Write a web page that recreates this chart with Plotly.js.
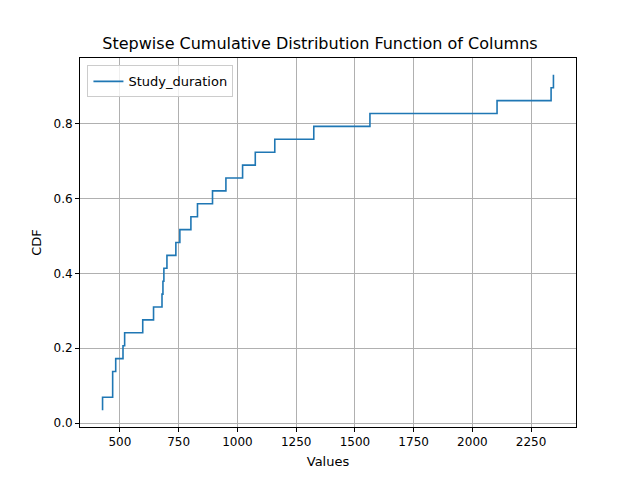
<!DOCTYPE html>
<html><head><script src="https://cdn.plot.ly/plotly-3.0.1.min.js"></script>
<style>body{margin:0}</style></head><body><div id="c" style="width:640px;height:480px"></div>
<script>
const values = [426,469,469,482,513,520,597,643,679,683,687,700,738,755,802,830,894,951,1022,1076,1159,1325,1564,2105,2335,2345,2345];
const total = 29;
const cdf = values.map((v,i)=>(i+1)/total);
const xTicks = [500,750,1000,1250,1500,1750,2000,2250];
const yTicks = [0,0.2,0.4,0.6,0.8];
const ax = {showline:true,mirror:true,linecolor:'black',linewidth:1,ticks:'outside',ticklen:4,tickcolor:'black',
  showgrid:true,gridcolor:'#b0b0b0',gridwidth:1,zeroline:false,tickfont:{size:12,color:'black'}};
Plotly.newPlot('c',[{x:values,y:cdf,mode:'lines',line:{shape:'vh',color:'#1f77b4',width:1.6},name:'Study_duration'}],{
  width:640,height:480,margin:{l:80,r:64,t:58,b:53},
  font:{family:'DejaVu Sans',color:'black'},
  paper_bgcolor:'white',plot_bgcolor:'white',
  title:{text:'Stepwise Cumulative Distribution Function of Columns',font:{size:16},x:0.5,xanchor:'center',y:0.91,yanchor:'middle'},
  xaxis:Object.assign({},ax,{range:[330,2441],tickvals:xTicks,title:{text:'Values',font:{size:13},standoff:8}}),
  yaxis:Object.assign({},ax,{range:[-0.0104,0.976],tickvals:yTicks,tickformat:'.1f',title:{text:'CDF',font:{size:13},standoff:8}}),
  showlegend:true,
  legend:{x:0.015,y:0.98,xanchor:'left',yanchor:'top',bordercolor:'#cccccc',borderwidth:1,bgcolor:'rgba(255,255,255,0.8)',font:{size:13}}
},{displayModeBar:false});
</script></body></html>
